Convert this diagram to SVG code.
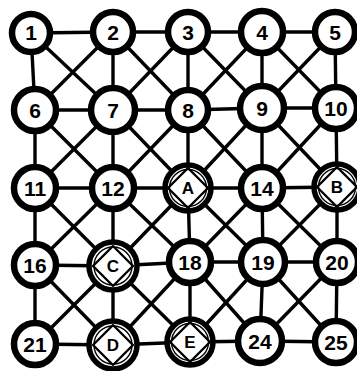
<svg xmlns="http://www.w3.org/2000/svg" width="357" height="371" viewBox="0 0 357 371">
<style>
.e line{stroke:#000;stroke-width:3.4;stroke-linecap:round}
.n{fill:#fff;stroke:#000;stroke-width:6.5}
.o{fill:#fff;stroke:#000;stroke-width:5.5}
.i{fill:none;stroke:#000;stroke-width:1.4}
.d{fill:none;stroke:#000;stroke-width:2.4;stroke-linejoin:round}
text{font-family:"Liberation Sans","DejaVu Sans",sans-serif;font-weight:bold;font-size:21px;text-anchor:middle;fill:#000}
.l{font-size:17px}
</style>
<rect width="357" height="371" fill="#fff"/>
<g class="e" id="edges">
<line x1="31" y1="33" x2="113" y2="32"/><line x1="113" y1="32" x2="188" y2="32"/><line x1="188" y1="32" x2="262" y2="32"/><line x1="262" y1="32" x2="335" y2="32"/>
<line x1="35" y1="110" x2="113" y2="110"/><line x1="113" y1="110" x2="188" y2="110"/><line x1="188" y1="110" x2="262" y2="108"/><line x1="262" y1="108" x2="336" y2="108"/>
<line x1="35" y1="188" x2="113" y2="188"/><line x1="113" y1="188" x2="188" y2="188"/><line x1="188" y1="188" x2="262" y2="188"/><line x1="262" y1="188" x2="337" y2="187"/>
<line x1="35" y1="265" x2="113" y2="266"/><line x1="113" y1="266" x2="190" y2="262"/><line x1="190" y1="262" x2="263" y2="262"/><line x1="263" y1="262" x2="337" y2="262"/>
<line x1="35" y1="344" x2="113" y2="345"/><line x1="113" y1="345" x2="190" y2="342"/><line x1="190" y1="342" x2="260" y2="341"/><line x1="260" y1="341" x2="336" y2="342"/>
<line x1="31" y1="33" x2="35" y2="110"/><line x1="35" y1="110" x2="35" y2="188"/><line x1="35" y1="188" x2="35" y2="265"/><line x1="35" y1="265" x2="35" y2="344"/>
<line x1="113" y1="32" x2="113" y2="110"/><line x1="113" y1="110" x2="113" y2="188"/><line x1="113" y1="188" x2="113" y2="266"/><line x1="113" y1="266" x2="113" y2="345"/>
<line x1="188" y1="32" x2="188" y2="110"/><line x1="188" y1="110" x2="188" y2="188"/><line x1="188" y1="188" x2="190" y2="262"/><line x1="190" y1="262" x2="190" y2="342"/>
<line x1="262" y1="32" x2="262" y2="108"/><line x1="262" y1="108" x2="262" y2="188"/><line x1="262" y1="188" x2="263" y2="262"/><line x1="263" y1="262" x2="260" y2="341"/>
<line x1="335" y1="32" x2="336" y2="108"/><line x1="336" y1="108" x2="337" y2="187"/><line x1="337" y1="187" x2="337" y2="262"/><line x1="337" y1="262" x2="336" y2="342"/>
<line x1="31" y1="33" x2="113" y2="110"/><line x1="113" y1="32" x2="35" y2="110"/>
<line x1="113" y1="32" x2="188" y2="110"/><line x1="188" y1="32" x2="113" y2="110"/>
<line x1="188" y1="32" x2="262" y2="108"/><line x1="262" y1="32" x2="188" y2="110"/>
<line x1="262" y1="32" x2="336" y2="108"/><line x1="335" y1="32" x2="262" y2="108"/>
<line x1="35" y1="110" x2="113" y2="188"/><line x1="113" y1="110" x2="35" y2="188"/>
<line x1="113" y1="110" x2="188" y2="188"/><line x1="188" y1="110" x2="113" y2="188"/>
<line x1="188" y1="110" x2="262" y2="188"/><line x1="262" y1="108" x2="188" y2="188"/>
<line x1="262" y1="108" x2="337" y2="187"/><line x1="336" y1="108" x2="262" y2="188"/>
<line x1="35" y1="188" x2="113" y2="266"/><line x1="113" y1="188" x2="35" y2="265"/>
<line x1="113" y1="188" x2="190" y2="262"/><line x1="188" y1="188" x2="113" y2="266"/>
<line x1="188" y1="188" x2="263" y2="262"/><line x1="262" y1="188" x2="190" y2="262"/>
<line x1="262" y1="188" x2="337" y2="262"/><line x1="337" y1="187" x2="263" y2="262"/>
<line x1="35" y1="265" x2="113" y2="345"/><line x1="113" y1="266" x2="35" y2="344"/>
<line x1="113" y1="266" x2="190" y2="342"/><line x1="190" y1="262" x2="113" y2="345"/>
<line x1="190" y1="262" x2="260" y2="341"/><line x1="263" y1="262" x2="190" y2="342"/>
<line x1="263" y1="262" x2="336" y2="342"/><line x1="337" y1="262" x2="260" y2="341"/>
</g>
<g id="n1"><circle class="n" cx="31" cy="33" r="19"/><text x="31" y="40">1</text></g>
<g id="n2"><circle class="n" cx="113" cy="32" r="20"/><text x="113" y="40">2</text></g>
<g id="n3"><circle class="n" cx="188" cy="32" r="20"/><text x="188" y="40">3</text></g>
<g id="n4"><circle class="n" cx="262" cy="32" r="21"/><text x="262" y="40">4</text></g>
<g id="n5"><circle class="n" cx="335" cy="32" r="20"/><text x="335" y="40">5</text></g>
<g id="n6"><circle class="n" cx="35" cy="110" r="21"/><text x="35" y="118">6</text></g>
<g id="n7"><circle class="n" cx="113" cy="110" r="22"/><text x="113" y="118">7</text></g>
<g id="n8"><circle class="n" cx="188" cy="110" r="20"/><text x="188" y="118">8</text></g>
<g id="n9"><circle class="n" cx="262" cy="108" r="22"/><text x="262" y="116">9</text></g>
<g id="n10"><circle class="n" cx="336" cy="108" r="21"/><text x="336" y="116">10</text></g>
<g id="n11"><circle class="n" cx="35" cy="188" r="21"/><text x="35" y="196">11</text></g>
<g id="n12"><circle class="n" cx="113" cy="188" r="21"/><text x="113" y="196">12</text></g>
<g id="nA"><circle class="o" cx="188" cy="188" r="23"/><circle class="i" cx="188" cy="188" r="18.5"/><path class="d" d="M188 168L208 188L188 208L168 188Z"/><text class="l" x="188" y="194">A</text></g>
<g id="n14"><circle class="n" cx="262" cy="188" r="21"/><text x="262" y="196">14</text></g>
<g id="nB"><circle class="o" cx="337" cy="187" r="23"/><circle class="i" cx="337" cy="187" r="18.5"/><path class="d" d="M337 167L357 187L337 207L317 187Z"/><text class="l" x="337" y="193">B</text></g>
<g id="n16"><circle class="n" cx="35" cy="265" r="21"/><text x="35" y="273">16</text></g>
<g id="nC"><circle class="o" cx="113" cy="266" r="24"/><circle class="i" cx="113" cy="266" r="19"/><path class="d" d="M113 246L133 266L113 286L93 266Z"/><text class="l" x="113" y="272">C</text></g>
<g id="n18"><circle class="n" cx="190" cy="262" r="21"/><text x="190" y="270">18</text></g>
<g id="n19"><circle class="n" cx="263" cy="262" r="22"/><text x="263" y="270">19</text></g>
<g id="n20"><circle class="n" cx="337" cy="262" r="21"/><text x="337" y="270">20</text></g>
<g id="n21"><circle class="n" cx="35" cy="344" r="21"/><text x="35" y="352">21</text></g>
<g id="nD"><circle class="o" cx="113" cy="345" r="24"/><circle class="i" cx="113" cy="345" r="19"/><path class="d" d="M113 325L133 345L113 365L93 345Z"/><text class="l" x="113" y="351">D</text></g>
<g id="nE"><circle class="o" cx="190" cy="342" r="23"/><circle class="i" cx="190" cy="342" r="18.5"/><path class="d" d="M190 322L210 342L190 362L170 342Z"/><text class="l" x="190" y="348">E</text></g>
<g id="n24"><circle class="n" cx="260" cy="341" r="22"/><text x="260" y="349">24</text></g>
<g id="n25"><circle class="n" cx="336" cy="342" r="21"/><text x="336" y="350">25</text></g>
</svg>
